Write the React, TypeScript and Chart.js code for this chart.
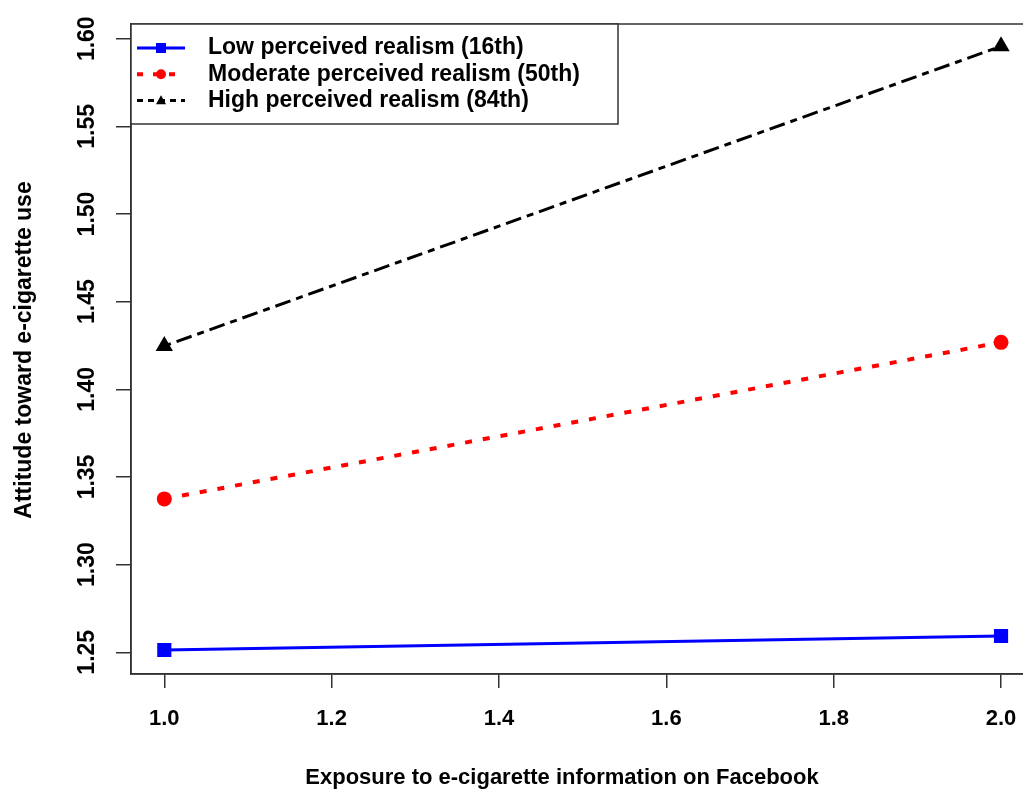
import React, { useEffect, useRef } from "react";
import { Chart, registerables } from "chart.js";

Chart.register(...registerables);

// ---- data ----
const xValues = [1.0, 2.0];
const lowRealism = [1.2513, 1.2593];
const moderateRealism = [1.3375, 1.4268];
const highRealism = [1.4247, 1.5957];
const seriesLabels = [
  "Low perceived realism (16th)",
  "Moderate perceived realism (50th)",
  "High perceived realism (84th)",
];
const xTicks = [1.0, 1.2, 1.4, 1.6, 1.8, 2.0];
const yTicks = [1.25, 1.3, 1.35, 1.4, 1.45, 1.5, 1.55, 1.6];
const xTitle = "Exposure to e-cigarette information on Facebook";
const yTitle = "Attitude toward e-cigarette use";

const FONT = "'Liberation Sans', Arial, sans-serif";
const AXIS_COLOR = "#333";

type Style = {
  color: string;
  dash: number[];
  width: number;
  marker: "rect" | "circle" | "triangle";
  radius: number;
};

const styles: Style[] = [
  { color: "#0000FF", dash: [], width: 3, marker: "rect", radius: 10 },
  { color: "#FF0000", dash: [7, 11], width: 4, marker: "circle", radius: 7.5 },
  { color: "#000000", dash: [7, 6, 16, 6], width: 3, marker: "triangle", radius: 10 },
];

const seriesValues = [lowRealism, moderateRealism, highRealism];

function drawMarker(ctx: CanvasRenderingContext2D, kind: string, x: number, y: number, s: number, color: string) {
  ctx.save();
  ctx.fillStyle = color;
  ctx.setLineDash([]);
  ctx.beginPath();
  if (kind === "rect") {
    ctx.rect(x - s / 2, y - s / 2, s, s);
  } else if (kind === "circle") {
    ctx.arc(x, y, s / 2, 0, Math.PI * 2);
  } else {
    const h = s * 0.9;
    ctx.moveTo(x, y - h * 0.6);
    ctx.lineTo(x + s / 2, y + h * 0.4);
    ctx.lineTo(x - s / 2, y + h * 0.4);
    ctx.closePath();
  }
  ctx.fill();
  ctx.restore();
}

const decorPlugin = {
  id: "decor",
  afterDraw(chart: any) {
    const ctx: CanvasRenderingContext2D = chart.ctx;
    const area = chart.chartArea;
    const yScale = chart.scales.y;

    ctx.save();
    // plot box
    ctx.strokeStyle = AXIS_COLOR;
    ctx.lineWidth = 1.5;
    ctx.setLineDash([]);
    ctx.strokeRect(area.left, area.top, area.right - area.left, area.bottom - area.top);

    // rotated y tick labels
    ctx.fillStyle = "#000";
    ctx.font = `bold 23px ${FONT}`;
    ctx.textAlign = "center";
    ctx.textBaseline = "middle";
    yScale.ticks.forEach((t: any) => {
      const py = yScale.getPixelForValue(t.value);
      ctx.save();
      ctx.translate(88, py);
      ctx.rotate(-Math.PI / 2);
      ctx.fillText(Number(t.value).toFixed(2), 0, 0);
      ctx.restore();
    });

    // y title
    ctx.save();
    ctx.font = `bold 23px ${FONT}`;
    ctx.translate(25, 350);
    ctx.rotate(-Math.PI / 2);
    ctx.fillText(yTitle, 0, 0);
    ctx.restore();

    // x title
    ctx.font = `bold 22px ${FONT}`;
    ctx.fillText(xTitle, 562, 778);

    // legend
    const lx = area.left;
    const ly = area.top;
    const lw = 618 - lx;
    const lh = 124 - ly;
    ctx.fillStyle = "#fff";
    ctx.fillRect(lx, ly, lw, lh);
    ctx.strokeStyle = AXIS_COLOR;
    ctx.lineWidth = 1.5;
    ctx.strokeRect(lx, ly, lw, lh);

    chart.data.datasets.forEach((ds: any, i: number) => {
      const st = styles[i];
      const cy = 48 + i * 26.3;
      ctx.save();
      ctx.strokeStyle = st.color;
      ctx.lineWidth = st.width;
      ctx.setLineDash(i === 1 ? [6, 10] : i === 2 ? [6, 5] : []);
      ctx.beginPath();
      ctx.moveTo(137, cy);
      ctx.lineTo(185, cy);
      ctx.stroke();
      ctx.restore();
      drawMarker(ctx, st.marker, 161, cy, 10, st.color);
      ctx.fillStyle = "#000";
      ctx.font = `bold 23px ${FONT}`;
      ctx.textAlign = "left";
      ctx.textBaseline = "middle";
      ctx.fillText(ds.label, 208, cy);
    });
    ctx.restore();
  },
};

export default function App() {
  const canvasRef = useRef<HTMLCanvasElement | null>(null);

  useEffect(() => {
    const canvas = canvasRef.current;
    if (!canvas) return;
    const datasets = seriesValues.map((vals, i) => {
      const st = styles[i];
      return {
        label: seriesLabels[i],
        data: xValues.map((x, j) => ({ x, y: vals[j] })),
        borderColor: st.color,
        backgroundColor: st.color,
        borderWidth: st.width,
        borderDash: st.dash,
        borderCapStyle: "butt" as const,
        pointStyle: st.marker,
        pointRadius: st.radius,
        pointBorderWidth: 0,
        pointBackgroundColor: st.color,
        pointBorderColor: st.color,
        fill: false,
        tension: 0,
      };
    });

    const chart = new Chart(canvas, {
      type: "line",
      data: { datasets },
      plugins: [decorPlugin],
      options: {
        animation: false,
        responsive: false,
        maintainAspectRatio: false,
        devicePixelRatio: 1,
        layout: { padding: { left: 0, top: 24, right: 10.5, bottom: 0 } },
        plugins: {
          legend: { display: false },
          tooltip: { enabled: false },
          title: { display: false },
        },
        scales: {
          x: {
            type: "linear",
            min: 0.9602,
            max: 2.04,
            afterBuildTicks: (scale: any) => {
              scale.ticks = xTicks.map((v) => ({ value: v }));
            },
            afterFit: (scale: any) => {
              scale.height = 117;
            },
            grid: {
              drawOnChartArea: false,
              drawTicks: true,
              tickLength: 14,
              color: AXIS_COLOR,
              lineWidth: 1.5,
            },
            border: { display: true, color: AXIS_COLOR, width: 1.5 },
            ticks: {
              autoSkip: false,
              maxRotation: 0,
              minRotation: 0,
              padding: 18,
              color: "#000",
              font: { family: FONT, size: 22, weight: "bold" },
              callback: (v: any) => Number(v).toFixed(1),
            },
          },
          y: {
            type: "linear",
            min: 1.2376,
            max: 1.6084,
            afterBuildTicks: (scale: any) => {
              scale.ticks = yTicks.map((v) => ({ value: v }));
            },
            afterFit: (scale: any) => {
              scale.width = 131;
            },
            grid: {
              drawOnChartArea: false,
              drawTicks: true,
              tickLength: 15,
              color: AXIS_COLOR,
              lineWidth: 1.5,
            },
            border: { display: true, color: AXIS_COLOR, width: 1.5 },
            ticks: { display: false },
          },
        },
      },
    });
    return () => chart.destroy();
  }, []);

  return (
    <div
      style={{
        position: "absolute",
        left: 0,
        top: 0,
        width: 1023,
        height: 791,
        overflow: "hidden",
        background: "#fff",
      }}
    >
      <canvas ref={canvasRef} width={1045} height={791} style={{ display: "block" }} />
    </div>
  );
}
